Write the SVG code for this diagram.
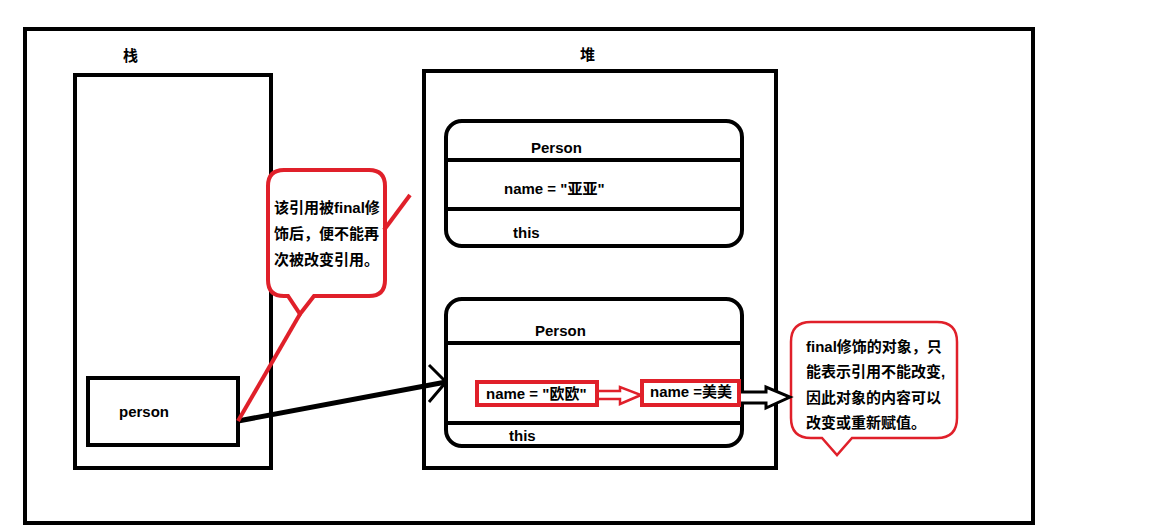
<svg xmlns="http://www.w3.org/2000/svg" width="1153" height="529" viewBox="0 0 1153 529">
<style>
.k{fill:none;stroke:#000;stroke-width:4}
.r{fill:none;stroke:#e0202a;stroke-width:4}
.t{font-family:"Liberation Sans","Noto Sans CJK SC",sans-serif;font-weight:bold;font-size:15px;fill:#000}
.c{font-family:"Liberation Sans","Noto Sans CJK SC",sans-serif;font-weight:bold;font-size:15px;fill:#000}
</style>
<rect width="1153" height="529" fill="#fff"/>
<g id="frame"><rect class="k" x="25" y="29" width="1008" height="494"/></g>
<g id="stack">
<rect class="k" x="75" y="75" width="196" height="393"/>
<text class="c" x="123" y="61">栈</text>
</g>
<g id="heap">
<rect class="k" x="424" y="71" width="352" height="397"/>
<text class="c" x="580" y="60">堆</text>
</g>
<g id="person1">
<rect class="k" x="446" y="121" width="296" height="125" rx="16"/>
<line class="k" x1="446" y1="160" x2="742" y2="160"/>
<line class="k" x1="446" y1="209" x2="742" y2="209"/>
<text class="t" x="531" y="153">Person</text>
<text class="t" x="504" y="194">name = "亚亚"</text>
<text class="t" x="513" y="238">this</text>
</g>
<g id="person2">
<rect class="k" x="446" y="299" width="296" height="147" rx="16"/>
<line class="k" x1="446" y1="343" x2="742" y2="343"/>
<line class="k" x1="446" y1="423" x2="742" y2="423"/>
<text class="t" x="535" y="336">Person</text>
<text class="t" x="509" y="441">this</text>
</g>
<g id="name1">
<rect class="r" x="477" y="382" width="120" height="23" fill="#fff"/>
<text class="t" x="486" y="399">name = "欧欧"</text>
</g>
<g id="name2">
<rect class="r" x="642" y="381" width="97" height="24" fill="#fff"/>
<text class="t" x="650" y="397">name =美美</text>
</g>
<g id="ref">
<rect class="k" x="88" y="378" width="150" height="67"/>
<text class="t" x="119" y="417">person</text>
</g>
<g id="callout1">
<path d="M288,296 L284,296 Q268,296 268,280 L268,186 Q268,170 284,170 L369,170 Q385,170 385,186 L385,280 Q385,296 369,296 L314,296 L300,314 Z" fill="#fff" stroke="#e0202a" stroke-width="4"/>
<text class="c" x="274" y="213">该引用被final修</text>
<text class="c" x="274" y="239">饰后，便不能再</text>
<text class="c" x="274" y="265">次被改变引用。</text>
</g>
<g id="callout2">
<path d="M822,438 L811,438 Q791,438 791,418 L791,342 Q791,322 811,322 L937,322 Q957,322 957,342 L957,418 Q957,438 937,438 L852,438 L837,455 Z" fill="#fff" stroke="#e0202a" stroke-width="2.5"/>
<text class="c" x="806" y="352">final修饰的对象，只</text>
<text class="c" x="806" y="377">能表示引用不能改变,</text>
<text class="c" x="806" y="403">因此对象的内容可以</text>
<text class="c" x="806" y="428">改变或重新赋值。</text>
</g>
<g id="connectors">
<line x1="238" y1="421" x2="446" y2="382" stroke="#000" stroke-width="5"/>
<polyline points="429,365 446,382 429,402" fill="none" stroke="#000" stroke-width="3"/>
<line x1="300" y1="314" x2="238" y2="421" stroke="#e0202a" stroke-width="4"/>
<line x1="384" y1="230" x2="410" y2="195" stroke="#e0202a" stroke-width="4"/>
<path d="M599,391 L620,391 L620,387 L641,395 L620,404 L620,399 L599,399" fill="#fff" stroke="#e0202a" stroke-width="2.5"/>
<path d="M741,392 L766,392 L766,387 L790,397 L766,408 L766,403 L741,403" fill="#fff" stroke="#000" stroke-width="3"/>
</g>
</svg>
